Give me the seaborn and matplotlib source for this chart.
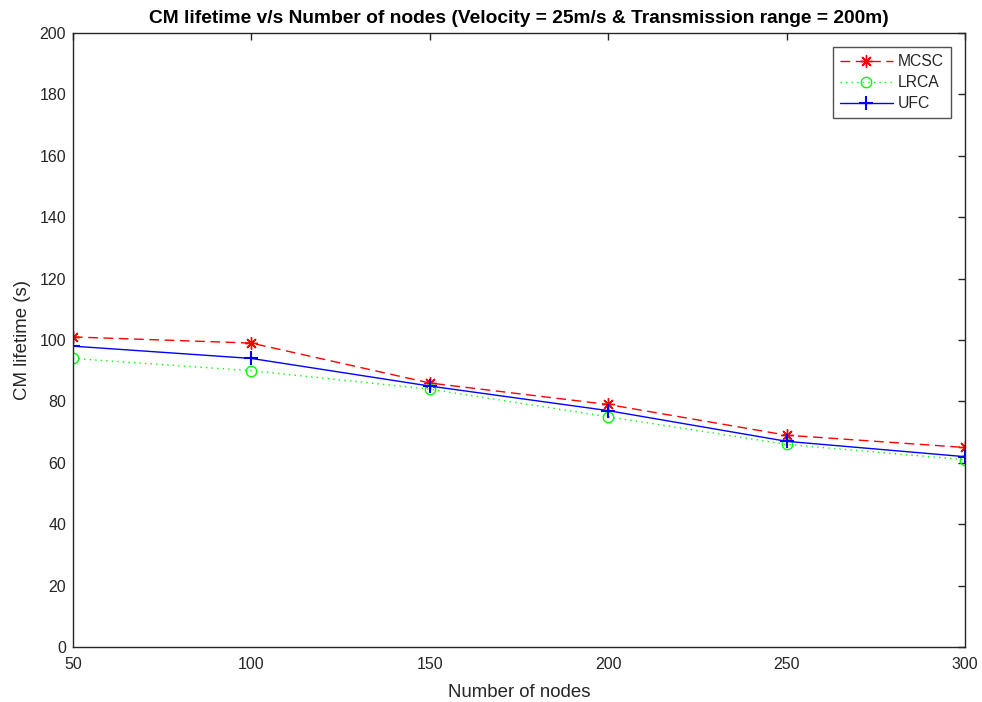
import matplotlib
matplotlib.use("Agg")
import matplotlib.pyplot as plt
import seaborn as sns
import pandas as pd

nodes = [50, 100, 150, 200, 250, 300]
mcsc = [101, 99, 86, 79, 69, 65]
lrca = [94, 90, 84, 75, 66, 61]
ufc = [98, 94, 85, 77, 67, 62]
series_names = ["MCSC", "LRCA", "UFC"]
x_ticks = [50, 100, 150, 200, 250, 300]
y_ticks = list(range(0, 201, 20))

sns.set_style("white")
plt.rcParams['font.family'] = ['Liberation Sans', 'DejaVu Sans']

df = pd.DataFrame({"nodes": nodes * 3,
                   "life": mcsc + lrca + ufc,
                   "series": [s for s in series_names for _ in nodes]})

fig = plt.figure(figsize=(9.82, 7.02), dpi=100)
ax = fig.add_axes([0.0743, 0.0783, 0.9084, 0.8747])

styles = {
    "MCSC": dict(color="#ff0000", linestyle=(0, (7, 4)), marker=(8, 2, 0), markersize=9, mew=1.0),
    "LRCA": dict(color="#00ff00", linestyle=(0, (1, 3)), marker="o", markersize=7.5, mew=1.0),
    "UFC": dict(color="#0000ff", linestyle="-", marker="+", markersize=10, mew=1.5),
}
for name in series_names:
    sub = df[df["series"] == name]
    st = styles[name]
    sns.lineplot(data=sub, x="nodes", y="life", ax=ax, label=name,
                 color=st["color"], linewidth=1.0, linestyle=st["linestyle"],
                 marker=st["marker"], markersize=st["markersize"],
                 markerfacecolor="none", markeredgecolor=st["color"],
                 markeredgewidth=st["mew"])

ax.set_xlim(50, 300)
ax.set_ylim(0, 200)
ax.set_xticks(x_ticks)
ax.set_yticks(y_ticks)
ax.tick_params(direction="in", length=5, width=1, colors="#262626", labelsize=11.5,
               top=True, right=True, labelcolor="#262626")
ax.tick_params(axis="x", pad=7)
ax.tick_params(axis="y", pad=5)
for sp in ax.spines.values():
    sp.set_color("#262626")
    sp.set_linewidth(1.0)
ax.set_xlabel("Number of nodes", fontsize=13.4, color="#262626", labelpad=9)
ax.set_ylabel("CM lifetime (s)", fontsize=13.4, color="#262626", labelpad=6)
ax.set_title("CM lifetime v/s Number of nodes (Velocity = 25m/s & Transmission range = 200m)",
             fontsize=13.8, fontweight="bold", color="#000000", pad=7)
leg = ax.legend(loc="upper right", fontsize=11.3, frameon=True, fancybox=False,
                edgecolor="#262626", handlelength=3.4, handletextpad=0.3,
                borderaxespad=0.9, borderpad=0.45, labelspacing=0.38)
leg.get_frame().set_linewidth(1.0)

fig.savefig("out.png", dpi=100)
